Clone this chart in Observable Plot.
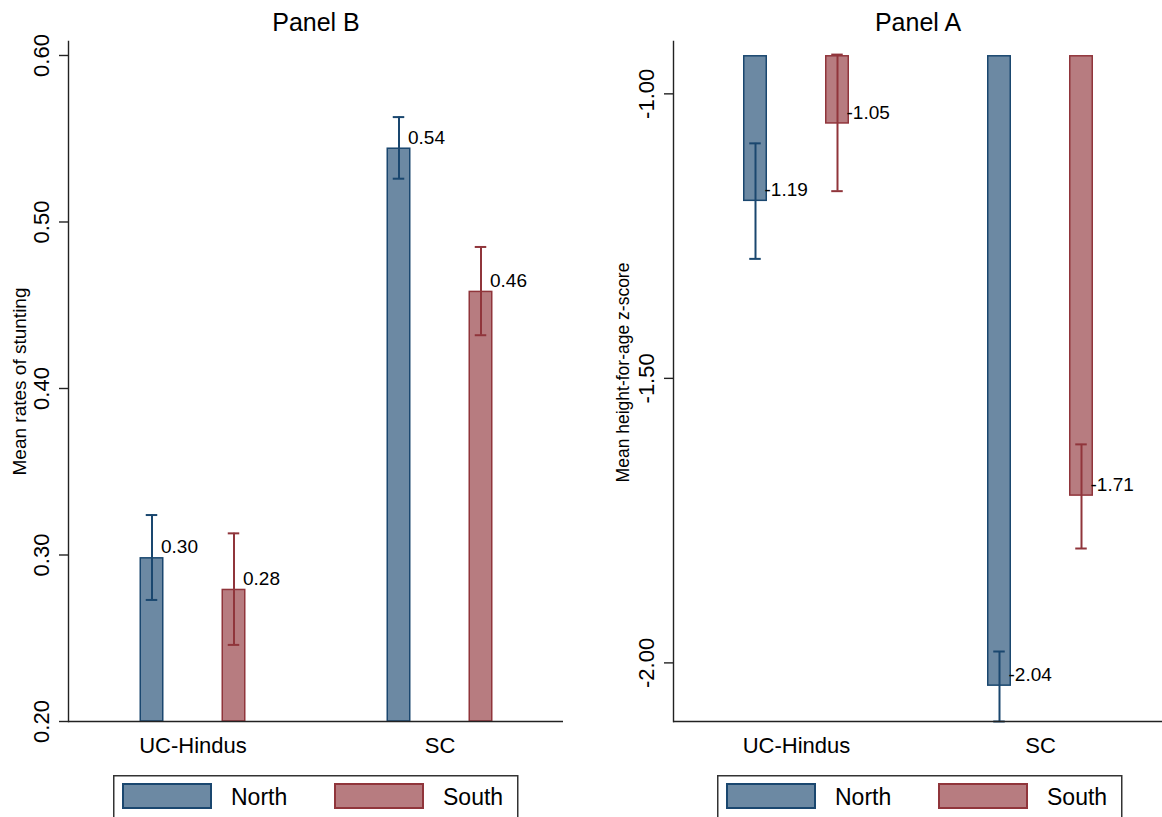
<!DOCTYPE html>
<html>
<head>
<meta charset="utf-8">
<script src="https://cdn.jsdelivr.net/npm/d3@7"></script>
<script src="https://cdn.jsdelivr.net/npm/@observablehq/plot@0.6"></script>
<style>
  body { margin: 0; background: #fff; font-family: "Liberation Sans", Arial, Helvetica, sans-serif; }
  #wrap { position: relative; width: 1162px; height: 817px; overflow: hidden; background: #fff; }
  .panel { position: absolute; top: 0; }
  .legend { position: absolute; top: 775px; }
</style>
</head>
<body>
<div id="wrap"></div>
<script>
// ---- data ----
const categories = ["UC-Hindus", "SC"];
const regions = ["North", "South"];
const regionFill = ["#6c89a3", "#b77c80"];
const regionStroke = ["#1a476f", "#90353b"];

// Panel B: mean rates of stunting
const stuntNorth   = [0.298, 0.544];
const stuntNorthLo = [0.273, 0.526];
const stuntNorthHi = [0.324, 0.563];
const stuntSouth   = [0.279, 0.458];
const stuntSouthLo = [0.246, 0.432];
const stuntSouthHi = [0.313, 0.485];
const stuntTicks   = [0.2, 0.3, 0.4, 0.5, 0.6];

// Panel A: mean height-for-age z-score
const hazNorth   = [-1.188, -2.040];
const hazNorthLo = [-1.290, -2.103];
const hazNorthHi = [-1.087, -1.980];
const hazSouth   = [-1.052, -1.706];
const hazSouthLo = [-1.171, -1.799];
const hazSouthHi = [-0.931, -1.616];
const hazTicks   = [-2, -1.5, -1];

const FONT = "Liberation Sans, Arial, Helvetica, sans-serif";
const AXIS = "#222";

function makePanel(o) {
  const W = 581, H = 770, mt = 41, mb = 49;
  const bw = (W - o.ml - o.mr) / categories.length;
  const barW = 23, capW = 12, off = 41;
  const series = regions.map((r, k) => ({
    region: r,
    fill: regionFill[k],
    stroke: regionStroke[k],
    dx: k === 0 ? -off : off,
    rows: categories.map((c, i) => ({
      category: c, value: o.mean[k][i], lo: o.lo[k][i], hi: o.hi[k][i]
    }))
  }));
  const marks = [];
  for (const s of series) {
    marks.push(Plot.barY(s.rows, {
      x: "category", y1: () => o.base, y2: "value",
      fill: s.fill, stroke: s.stroke, strokeWidth: 1.5,
      insetLeft: (bw - barW) / 2, insetRight: (bw - barW) / 2, dx: s.dx
    }));
  }
  for (const s of series) {
    marks.push(Plot.ruleX(s.rows, {x: "category", y1: "lo", y2: "hi", stroke: s.stroke, strokeWidth: 2, dx: s.dx}));
    for (const key of ["lo", "hi"]) {
      marks.push(Plot.tickY(s.rows, {
        x: "category", y: key, stroke: s.stroke, strokeWidth: 2, dx: s.dx,
        insetLeft: (bw - capW) / 2, insetRight: (bw - capW) / 2
      }));
    }
    marks.push(Plot.text(s.rows, {
      x: "category", y: "value", text: d => d.value.toFixed(2),
      dx: s.dx + 9, dy: -11, textAnchor: "start", fontSize: 19, fill: "black"
    }));
  }
  // axes
  marks.push(Plot.ruleY([o.domain[0]], {stroke: AXIS, strokeWidth: 1.4}));
  marks.push(Plot.frame({anchor: "left", stroke: AXIS, strokeWidth: 1.4}));
  marks.push(Plot.axisY({ticks: o.ticks, tickSize: 9, tickFormat: () => "", label: null, stroke: AXIS, strokeWidth: 1.4}));
  marks.push(Plot.text(o.ticks, {
    y: d => d, text: d => d.toFixed(2), frameAnchor: "left", textAnchor: "middle",
    dx: -27, rotate: -90, fontSize: 22, fill: "black"
  }));
  marks.push(Plot.axisX({tickSize: 0, tickPadding: 16, fontSize: 22, label: null, fill: "black"}));
  // titles
  marks.push(Plot.text([o.title], {
    text: d => d, frameAnchor: "top", dy: -11, lineAnchor: "bottom", fontSize: 25, fill: "black"
  }));
  marks.push(Plot.text([o.yLabel], {
    text: d => d, frameAnchor: "left", textAnchor: "middle", dx: o.titleDx, dy: o.titleDy,
    rotate: -90, fontSize: o.titleSize, fill: "black"
  }));

  const chart = Plot.plot({
    width: W, height: H,
    marginTop: mt, marginBottom: mb, marginLeft: o.ml, marginRight: o.mr,
    style: {fontFamily: FONT, background: "white", overflow: "visible"},
    x: {domain: categories, padding: 0},
    y: {domain: o.domain},
    marks
  });
  const div = document.createElement("div");
  div.className = "panel";
  div.style.left = o.left + "px";
  div.appendChild(chart);
  document.getElementById("wrap").appendChild(div);
}

function makeLegend(left) {
  const svg = d3.create("svg")
    .attr("class", "legend")
    .attr("width", 408).attr("height", 42)
    .style("left", left + "px");
  svg.append("rect")
    .attr("x", 0.75).attr("y", 0.75).attr("width", 404).attr("height", 70)
    .attr("fill", "white").attr("stroke", "#333").attr("stroke-width", 1.5);
  regions.forEach((r, k) => {
    svg.append("rect")
      .attr("x", 10 + k * 212).attr("y", 9).attr("width", 88).attr("height", 24)
      .attr("fill", regionFill[k]).attr("stroke", regionStroke[k]).attr("stroke-width", 2);
    svg.append("text")
      .attr("x", 118 + k * 212).attr("y", 30)
      .attr("font-family", FONT).attr("font-size", 23).attr("fill", "black")
      .text(r);
  });
  document.getElementById("wrap").appendChild(svg.node());
}

makePanel({
  left: 0, ml: 68, mr: 18,
  domain: [0.2, 0.6084], base: 0.2, ticks: stuntTicks,
  mean: [stuntNorth, stuntSouth], lo: [stuntNorthLo, stuntSouthLo], hi: [stuntNorthHi, stuntSouthHi],
  title: "Panel B", yLabel: "Mean rates of stunting", titleDx: -49, titleDy: 0, titleSize: 19
});
makePanel({
  left: 581, ml: 92, mr: 0,
  domain: [-2.103, -0.908], base: -0.934, ticks: hazTicks,
  mean: [hazNorth, hazSouth], lo: [hazNorthLo, hazSouthLo], hi: [hazNorthHi, hazSouthHi],
  title: "Panel A", yLabel: "Mean height-for-age z-score", titleDx: -50, titleDy: -9, titleSize: 17.5
});
makeLegend(113);
makeLegend(717);
</script>
</body>
</html>
